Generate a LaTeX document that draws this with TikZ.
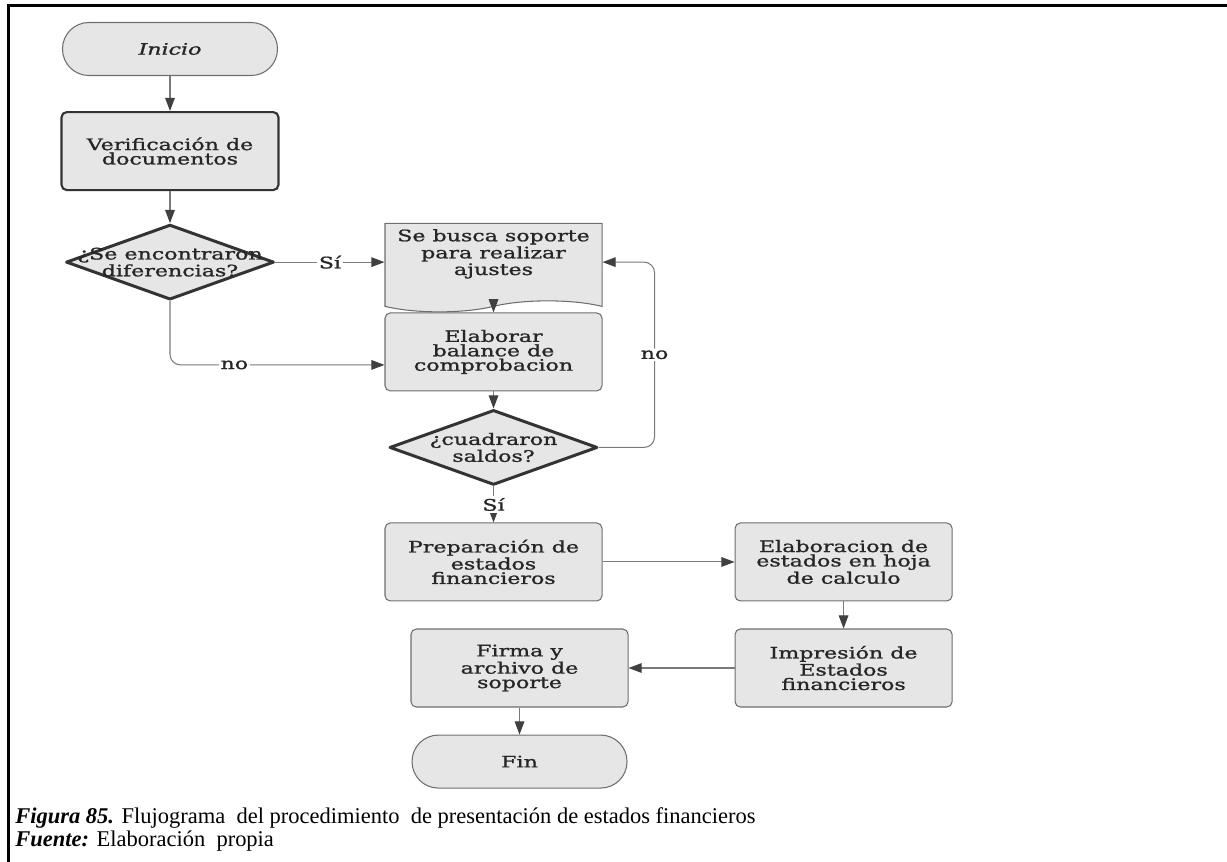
\documentclass[tikz,border=0pt]{standalone}
\usepackage{fontspec}
\usetikzlibrary{shapes.geometric, shapes.symbols, arrows.meta, positioning, calc}
\newfontfamily\flowfont[FakeStretch=1.4, FakeBold=1.2]{DejaVu Serif}
\newfontfamily\capfont{Liberation Serif}
\definecolor{boxfill}{HTML}{E6E6E6}
\definecolor{boxline}{HTML}{6E6E6E}
\definecolor{strong}{HTML}{333333}
\definecolor{wire}{HTML}{7A7A7A}
\definecolor{tipgray}{HTML}{404040}
\tikzset{
  txt/.style={font=\flowfont\fontsize{9}{8.2}\selectfont, align=center, text=black!85},
  terminal/.style={
    rectangle, rounded corners=15pt,
    minimum width=4.3cm, minimum height=1.06cm,
    draw=boxline, line width=0.6pt, fill=boxfill, txt,
  },
  process/.style={
    rectangle, rounded corners=3pt,
    minimum width=4.34cm, minimum height=1.56cm,
    draw=boxline, line width=0.6pt, fill=boxfill, txt,
  },
  strongbox/.style={draw=strong, line width=1.2pt},
  docbox/.style={
    tape, tape bend top=none, tape bend bottom=in and out,
    tape bend height=0.22cm, text depth=0.4cm,
    minimum width=4.34cm, minimum height=1.76cm,
    draw=boxline, line width=0.6pt, fill=boxfill, txt,
  },
  decision/.style={
    diamond, inner sep=0pt,
    minimum width=4.16cm, minimum height=1.5cm,
    draw=strong, line width=1.7pt, line join=round, fill=boxfill,
  },
  dectext/.style={txt, inner sep=0pt},
  arrow/.style={-{Triangle[length=7.5pt, width=5.5pt, color=tipgray]}, line width=0.6pt, color=wire},
  lbl/.style={txt, fill=white, inner sep=1pt},
  caption/.style={font=\capfont\fontsize{12.8}{13}\selectfont, align=left, inner sep=0pt},
}

\begin{document}
\begin{tikzpicture}
  \useasboundingbox (0,0) rectangle (24.54,-17.24);
  % marco
  \draw[line width=1.5pt] (24.54,-0.11) -- (0.17,-0.11) -- (0.17,-17.24);

  \node[terminal] (inicio) at (3.40,-0.98) {\itshape Inicio};
  \node[process, strongbox, below=0.7cm of inicio] (verif) {Verificación de\\documentos};
  \node[decision, below=0.64cm of verif] (dif) {};
  \node[dectext] (difT) at (dif) {¿Se encontraron\\diferencias?};
  \node[docbox, right=2.18cm of dif] (busca) {Se busca soporte\\para realizar\\ajustes};
  \node[process, below=0.22cm of busca] (balance) {Elaborar\\balance de\\comprobacion};
  \node[decision, below=0.34cm of balance] (cuadra) {};
  \node[dectext] (cuadraT) at (cuadra) {¿cuadraron\\saldos?};
  \node[process, below=0.72cm of cuadra] (prep) {Preparación de\\estados\\financieros};
  \node[process, right=2.64cm of prep] (estados) {Elaboracion de\\estados en hoja\\de calculo};
  \node[process, below=0.54cm of estados] (impres) {Impresión de\\Estados\\financieros};
  \node[process, left=2.12cm of impres] (firma) {Firma y\\archivo de\\soporte};
  \node[terminal, below=0.54cm of firma] (fin) {Fin};

  \coordinate (noin) at ($(balance.west)+(0,-0.26)$);

  \draw[arrow] (inicio) -- (verif);
  \draw[arrow] (verif) -- (dif);
  \draw[arrow] (dif.east) -- node[lbl]{Sí} (dif.east -| busca.west);
  \draw[arrow, rounded corners=6pt] (dif.south) |- node[lbl, pos=0.65]{no} (noin);
  \draw[arrow] (busca) -- (balance);
  \draw[arrow] (balance) -- (cuadra);
  \draw[arrow, rounded corners=6pt] (cuadra.east) -| node[lbl, pos=0.75]{no} ([xshift=1.04cm]busca.east) -- (busca.east);
  \draw[arrow] (cuadra) -- node[lbl]{Sí} (prep);
  \draw[arrow] (prep) -- (estados);
  \draw[arrow] (estados) -- (impres);
  \draw[arrow] (impres) -- (firma);
  \draw[arrow] (firma) -- (fin);

  % pie de figura (la base es la de la ultima linea)
  \node[caption, anchor=base west] (pie) at (0.30,-16.92)
    {\textbf{\textit{Figura 85.}} Flujograma\ \ del procedimiento\ \ de presentación de estados financieros\\
     \textbf{\textit{Fuente:}} Elaboración\ \ propia};
\end{tikzpicture}
\end{document}
